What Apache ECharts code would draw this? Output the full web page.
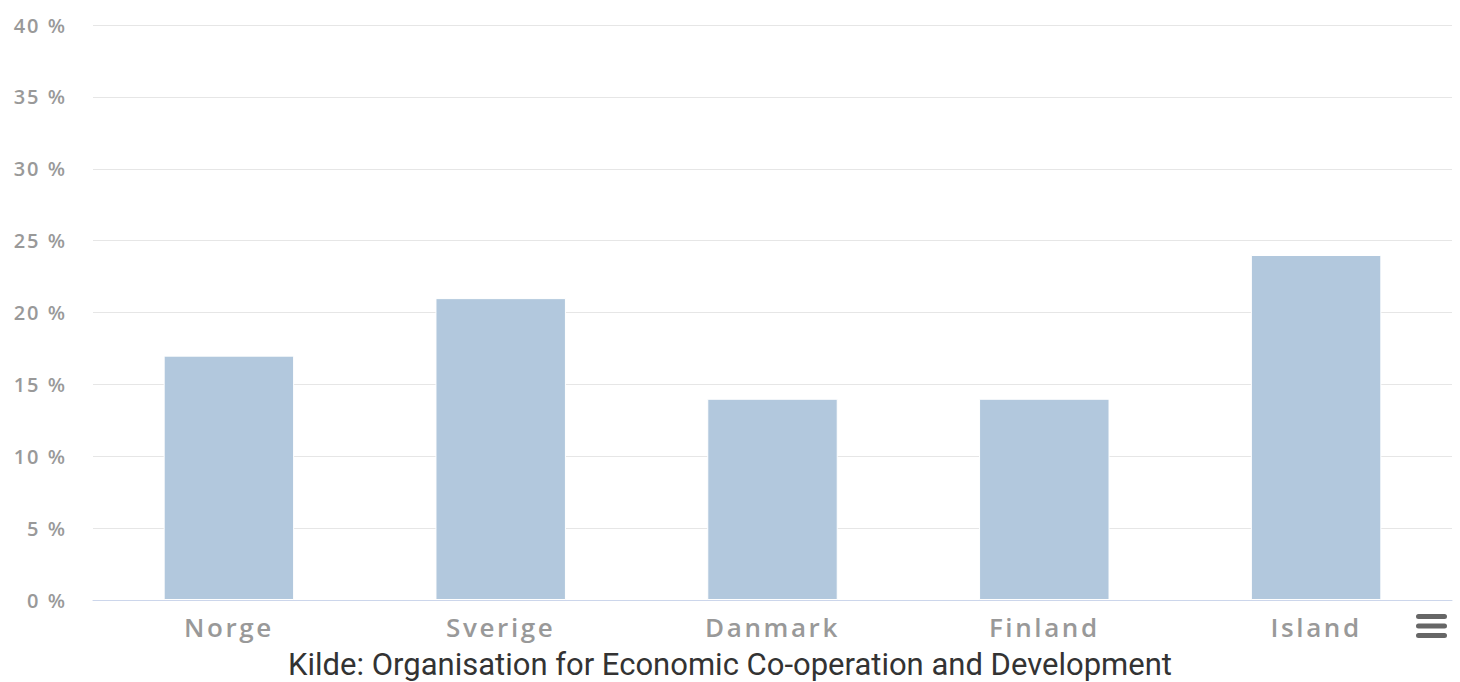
<!DOCTYPE html>
<html>
<head>
<meta charset="utf-8">
<script src="https://cdn.jsdelivr.net/npm/echarts@6/dist/echarts.min.js"></script>
<style>
html,body{margin:0;padding:0;background:#fff;}
#chart{width:1460px;height:682px;}
#chart text{letter-spacing:2px;}
#chart text[style*="26px"]{letter-spacing:2.6px;}
#chart text[style*="Roboto"]{letter-spacing:0;}
</style>
</head>
<body>
<div id="chart"></div>
<script>
const categories = ['Norge', 'Sverige', 'Danmark', 'Finland', 'Island'];
const values = [17, 21, 14, 14, 24];
const yTicks = [0, 5, 10, 15, 20, 25, 30, 35, 40];
const sourceText = 'Kilde: Organisation for Economic Co-operation and Development';

const chart = echarts.init(document.getElementById('chart'), null, {renderer: 'svg'});
chart.setOption({
  animation: false,
  grid: {left: 93, right: 8, top: 25, bottom: 82, containLabel: false},
  xAxis: {
    type: 'category',
    data: categories,
    axisLine: {lineStyle: {color: '#ccd6eb', width: 1}},
    axisTick: {show: false},
    axisLabel: {color: '#999999', fontSize: 26, fontFamily: 'Open Sans', fontWeight: 600, margin: 14}
  },
  yAxis: {
    type: 'value',
    min: yTicks[0],
    max: yTicks[yTicks.length - 1],
    interval: 5,
    axisLine: {show: false},
    axisTick: {show: false},
    splitLine: {lineStyle: {color: '#e6e6e6', width: 1}},
    axisLabel: {color: '#999999', fontSize: 20, fontFamily: 'Open Sans', fontWeight: 600, margin: 26,
      formatter: v => v + ' %'}
  },
  series: [{
    type: 'bar',
    data: values,
    barWidth: '48%',
    itemStyle: {color: '#b2c8dd', borderColor: '#ffffff', borderWidth: 1}
  }],
  graphic: [
    {type: 'text', left: 'center', top: 649,
      style: {text: sourceText, fill: '#333333', fontSize: 31, fontFamily: 'Roboto'}},
    {type: 'group', left: 1416, top: 614, children: [
      {type: 'rect', shape: {x: 0, y: 0, width: 31, height: 5, r: 2.5}, style: {fill: '#666666'}},
      {type: 'rect', shape: {x: 0, y: 9.5, width: 31, height: 5, r: 2.5}, style: {fill: '#666666'}},
      {type: 'rect', shape: {x: 0, y: 19, width: 31, height: 5, r: 2.5}, style: {fill: '#666666'}}
    ]}
  ]
});
</script>
</body>
</html>
